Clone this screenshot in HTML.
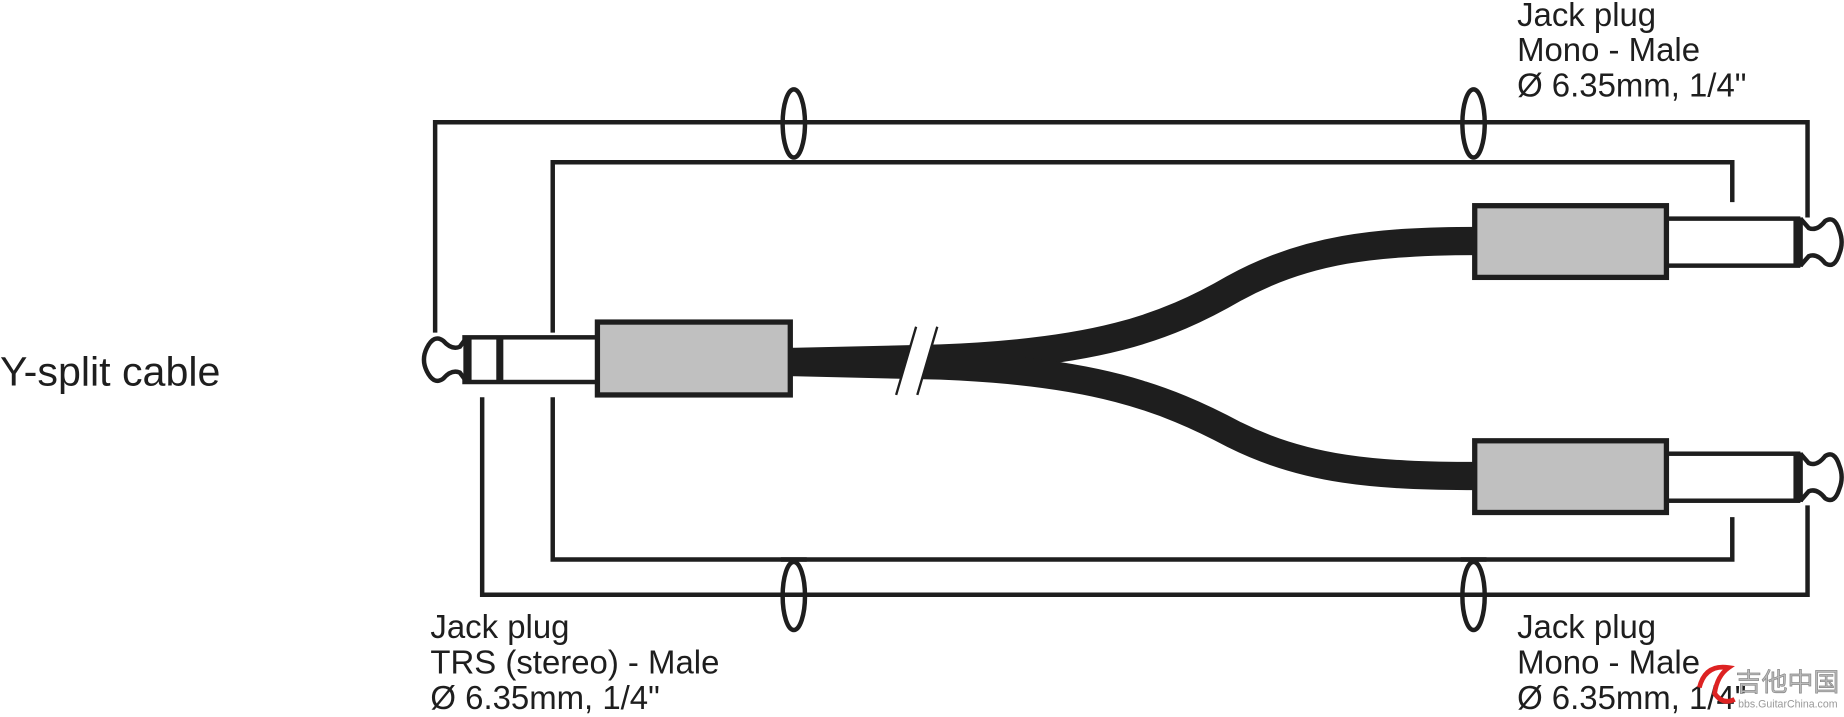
<!DOCTYPE html>
<html><head><meta charset="utf-8"><style>
html,body{margin:0;padding:0;background:#fff;}
svg{display:block;}
text{font-family:"Liberation Sans",Arial,sans-serif;fill:#1e1e1e;}
</style></head><body>
<svg width="1844" height="717" viewBox="0 0 1568 610" preserveAspectRatio="none" xmlns="http://www.w3.org/2000/svg">
<g fill="none" stroke="#1e1e1e" stroke-width="3.8">
  <polyline points="370,283 370,104 1537,104 1537,185"/>
  <polyline points="470,283 470,138 1473,138 1473,172"/>
  <polyline points="410,338 410,506 1537,506 1537,430"/>
  <polyline points="470,338 470,476 1473,476 1473,440"/>
  <ellipse cx="675" cy="105" rx="9.5" ry="29" fill="#fff"/>
  <ellipse cx="1253" cy="105" rx="9.5" ry="29" fill="#fff"/>
  <ellipse cx="675" cy="507" rx="9.5" ry="29" fill="#fff"/>
  <ellipse cx="1253" cy="507" rx="9.5" ry="29" fill="#fff"/>
</g>
<g stroke="#1e1e1e" stroke-width="3.8">
  <line x1="664" y1="104" x2="686" y2="104"/><line x1="1242" y1="104" x2="1264" y2="104"/>
  <line x1="664" y1="138" x2="686" y2="138"/><line x1="1242" y1="138" x2="1264" y2="138"/>
  <line x1="664" y1="476" x2="686" y2="476"/><line x1="1242" y1="476" x2="1264" y2="476"/>
  <line x1="664" y1="506" x2="686" y2="506"/><line x1="1242" y1="506" x2="1264" y2="506"/>
</g>
<g fill="none" stroke="#1e1e1e" stroke-width="24">
  <path d="M672,308 L800,305 C930,300 990,280 1050,245 C1110,212 1170,205 1256,205"/>
  <path d="M672,308 L800,311 C930,316 990,338 1050,370 C1110,400 1170,405 1256,405"/>
</g>
<polygon points="779,278 797,278 780,336 762,336" fill="#fff"/>
<g stroke="#1e1e1e" stroke-width="2"><line x1="779" y1="278" x2="762" y2="336"/><line x1="797" y1="278" x2="780" y2="336"/></g>
<g stroke="#1e1e1e" stroke-width="3.8" fill="#fff">
  <rect x="395" y="287" width="113" height="38"/>
  <rect x="508" y="274" width="164" height="62" fill="#c0c0c0" stroke-width="4.5"/>
  <path d="M397,287 L391,295 Q384,298 377,290 Q369,284 363,296 Q358,306 363,316 Q369,328 377,322 Q384,314 391,317 L397,325"/>
</g>
<rect x="394" y="286" width="7" height="40" fill="#1e1e1e"/>
<rect x="422" y="286" width="6" height="40" fill="#1e1e1e"/>
<g id="rp">
<g stroke="#1e1e1e" stroke-width="3.8" fill="#fff">
  <rect x="1417" y="186" width="112" height="40"/>
  <rect x="1254" y="175" width="163" height="61" fill="#c0c0c0" stroke-width="4.5"/>
  <path d="M1531,186 L1538,194 Q1545,197 1552,188 Q1560,183 1564,196 Q1568,206 1564,216 Q1560,229 1552,224 Q1545,215 1538,218 L1531,226"/>
</g>
<rect x="1525" y="185" width="8" height="42" fill="#1e1e1e"/>
</g>
<use href="#rp" transform="translate(0,200)"/>
<text x="0" y="328" font-size="35">Y-split cable</text>
<g font-size="28">
  <text x="1290" y="22">Jack plug</text>
  <text x="1290" y="52">Mono - Male</text>
  <text x="1290" y="82">Ø 6.35mm, 1/4"</text>
  <text x="366" y="543">Jack plug</text>
  <text x="366" y="573">TRS (stereo) - Male</text>
  <text x="366" y="603">Ø 6.35mm, 1/4"</text>
  <text x="1290" y="543">Jack plug</text>
  <text x="1290" y="573">Mono - Male</text>
  <text x="1290" y="603">Ø 6.35mm, 1/4"</text>
</g>
<path d="M1445,585 Q1450,565 1470,568 Q1460,575 1458,590 Q1465,600 1475,595" fill="none" stroke="#d22" stroke-width="4"/>
<text x="1476" y="588" font-size="22" style="font-family:'Liberation Sans','Noto Sans CJK SC',sans-serif;fill:#bbb;stroke:#888;stroke-width:0.6">吉他中国</text>
<text x="1478" y="602" font-size="9" style="fill:#999">bbs.GuitarChina.com</text>
</svg>
</body></html>
